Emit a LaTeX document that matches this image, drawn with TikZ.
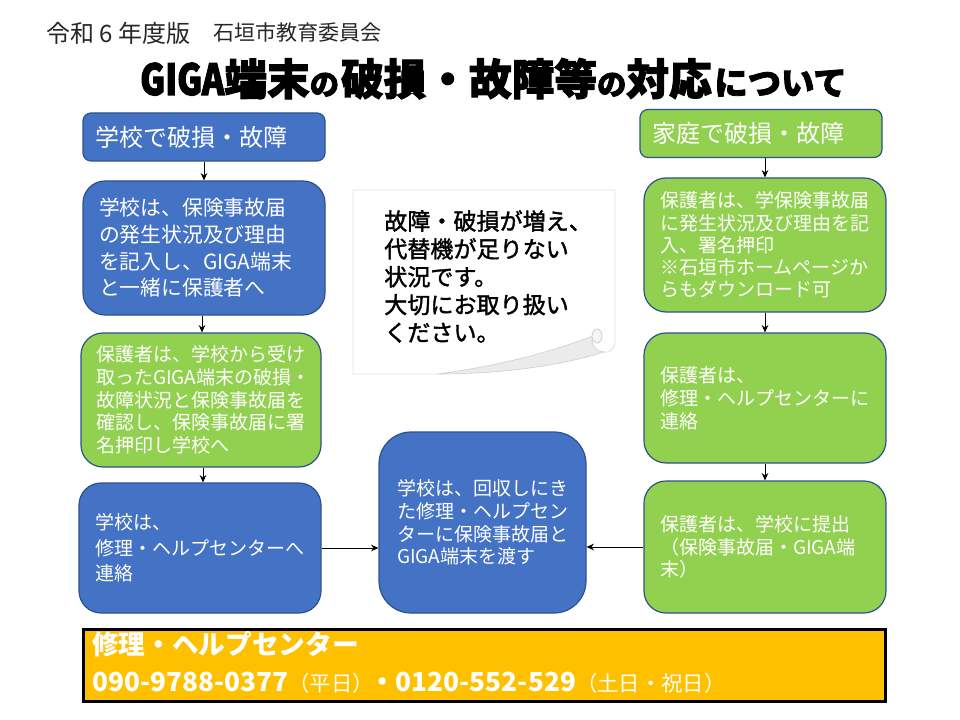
\documentclass[tikz,border=0pt]{standalone}
\usepackage{fontspec}
\setmainfont{Noto Sans CJK JP}
\newfontfamily\titlefont[FakeBold=2.5]{Noto Sans CJK JP Black}
\newfontfamily\titlelatin[FakeStretch=0.8,FakeBold=2.5]{Noto Sans CJK JP Black}
\newfontfamily\notefont[FakeBold=1.6]{Noto Sans CJK JP}
\tikzset{
  px/.style={x=0.75pt,y=-0.75pt},
  flowbox/.style={draw=#1,line width=0.9pt,rounded corners=16.5pt,align=left,text=white,inner ysep=0pt},
  bluebox/.style={flowbox=bluedge,fill=boxblue},
  greenbox/.style={flowbox=bluedge,fill=boxgreen},
  dims/.style n args={3}{minimum width=#1*0.75pt,minimum height=#2*0.75pt,text width=(#1-2*#3)*0.75pt,inner xsep=#3*0.75pt},
  linkarrow/.style={draw=black,line width=0.7pt,-{Stealth[length=5.5pt,width=5pt]}},
}
\usetikzlibrary{arrows.meta}
\definecolor{boxblue}{HTML}{4472C4}
\definecolor{boxgreen}{HTML}{92D050}
\definecolor{bluedge}{HTML}{2F528F}
\definecolor{barfill}{HTML}{FFC000}
\newcommand{\bodyfont}[1]{\fontsize{14.25pt}{#1}\selectfont}
\newcommand{\smalltitle}[1]{{\fontsize{22pt}{34pt}\selectfont #1}}
\newcommand{\barbold}[1]{{\bfseries\fontsize{19.7pt}{24pt}\selectfont #1}}
\begin{document}
\begin{tikzpicture}[px]
\useasboundingbox (0,0) rectangle (960,720);
\fill[white] (0,0) rectangle (960,720);
% header
\node[anchor=base west,inner sep=0pt,font=\fontsize{18pt}{20pt}\selectfont,text=black!85] (ver) at (46,43) {令和 6 年度版};
\node[anchor=base west,inner sep=0pt,font=\fontsize{15.8pt}{18pt}\selectfont,text=black!85] (org) at (213,41) {石垣市教育委員会};
\node[anchor=base west,inner sep=0pt] (title) at (140,95) {\titlefont\fontsize{32pt}{34pt}\selectfont{\titlelatin\fontsize{32pt}{34pt}\selectfont GIGA}端末\smalltitle{の}\kern1.5pt 破損・故障等\smalltitle{の}対応\kern2pt{\fontsize{25pt}{34pt}\selectfont について}};
% left column
\node[bluebox,dims={242}{48}{12},rounded corners=6pt,font=\fontsize{18pt}{20pt}\selectfont] (a) at (204,137) {学校で破損・故障};
\node[bluebox,dims={242}{134}{16},font=\fontsize{15.6pt}{20pt}\selectfont] (b) at (204,248) {学校は、保険事故届\\の発生状況及び理由\\を記入し、GIGA端末\\と一緒に保護者へ};
\node[greenbox,dims={240}{134}{15},font=\bodyfont{17pt}] (c) at (201,400) {保護者は、学校から受け\\取ったGIGA端末の破損・\\故障状況と保険事故届を\\確認し、保険事故届に署\\名押印し学校へ};
\node[bluebox,dims={242}{130}{16},font=\fontsize{14.25pt}{19pt}\selectfont] (d) at (200,548) {学校は、\\修理・ヘルプセンターへ\\連絡};
% centre
\node[bluebox,dims={207}{181}{18},rounded corners=24pt,font=\bodyfont{17pt}] (e) at (482.5,522.5) {学校は、回収しにき\\た修理・ヘルプセン\\ターに保険事故届と\\GIGA端末を渡す};
% right column
\node[greenbox,dims={242}{48}{12},rounded corners=6pt,font=\fontsize{18pt}{20pt}\selectfont] (f) at (761,133.5) {家庭で破損・故障};
\node[greenbox,dims={242}{134}{16},font=\bodyfont{16.7pt}] (g) at (765,245) {保護者は、学保険事故届\\に発生状況及び理由を記\\入、署名押印\\※石垣市ホームページか\\らもダウンロード可};
\node[greenbox,dims={242}{130}{16},font=\bodyfont{17.2pt}] (h) at (765,398) {保護者は、\\修理・ヘルプセンターに\\連絡};
\node[greenbox,dims={242}{132}{16},font=\bodyfont{17pt}] (i) at (765,547) {保護者は、学校に提出\\（保険事故届・GIGA端\\末）};
% connectors
\draw[linkarrow] (a.south) -- (b.north);
\draw[linkarrow] ([xshift=-1.5pt]b.south) -- ([xshift=0.75pt]c.north);
\draw[linkarrow] ([xshift=1.5pt]c.south) -- ([xshift=2.25pt]d.north);
\draw[linkarrow] ([xshift=3pt]f.south) -- (g.north);
\draw[linkarrow] (g.south) -- (h.north);
\draw[linkarrow] (h.south) -- (i.north);
\draw[linkarrow] (d.east) -- (d.east -| e.west);
\draw[linkarrow] (i.west) -- (i.west -| e.east);
% curled note
\fill[white] (353,190) -- (615,190) -- (615,342) .. controls (614,350) and (609,353) .. (604,352) .. controls (560,366) and (500,374) .. (437,374) -- (353,374) -- cycle;
\draw[black!12,line width=0.7pt] (437,374) -- (353,374) -- (353,190) -- (615,190) -- (615,342) .. controls (614,350) and (609,353) .. (604,352);
\fill[black!8] (437,374) .. controls (500,366) and (550,352) .. (593,336) .. controls (590,342) and (594,351) .. (604,352) .. controls (560,366) and (500,374) .. (437,374) -- cycle;
\draw[black!18,line width=0.5pt] (437,374) .. controls (500,366) and (550,352) .. (593,336) .. controls (590,342) and (594,351) .. (604,352) .. controls (560,366) and (500,374) .. (437,374);
\draw[black!22,fill=black!4,line width=0.5pt] (597,336) ellipse (5 and 7);
\node[anchor=north west,inner sep=0pt,align=left,text width=235*0.75pt,font=\notefont\fontsize{17.3pt}{20.9pt}\selectfont] (note) at (384,210) {故障・破損が増え、\\代替機が足りない\\状況です。\\大切にお取り扱い\\ください。};
% help bar
\node[draw=black,line width=2.25pt,fill=barfill,minimum width=802*0.75pt,minimum height=72*0.75pt,inner sep=0pt] (bar) at (484,665) {};
\node[anchor=base west,inner sep=0pt,text=white,font=\bfseries\fontsize{20pt}{24pt}\selectfont] (barhead) at (92,654) {修理・ヘルプセンター};
\node[anchor=base west,inner sep=0pt,text=white,font=\fontsize{16pt}{24pt}\selectfont] (barnum) at (92,691) {\barbold{090-9788-0377}（平日）\kern-3pt\barbold{・0120-552-529}（土日・祝日）};
\end{tikzpicture}
\end{document}
